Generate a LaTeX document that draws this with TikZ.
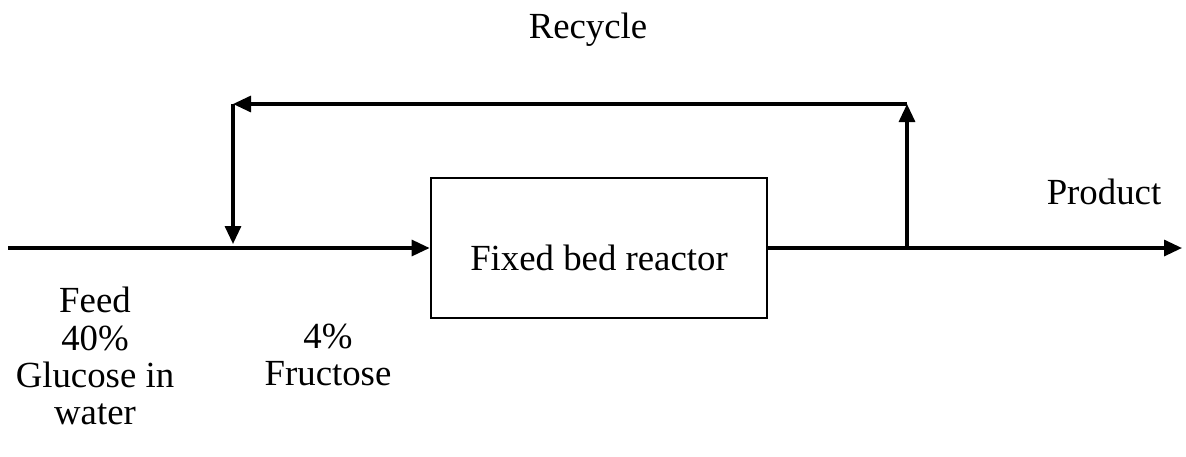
\documentclass[tikz,border=0pt]{standalone}
\usepackage{fontspec}
\setmainfont{Liberation Serif}
\usepackage{tikz}
\usetikzlibrary{arrows.meta,positioning,calc}

\begin{document}
\begin{tikzpicture}[x=0.5pt, y=-0.5pt,
		stream/.style={line width=1.6pt, -{Triangle[length=9pt,width=8pt]}},
		lbl/.style={font=\fontsize{18.4}{18.6}\selectfont, align=center, inner sep=0pt}]
		\useasboundingbox (0,0) rectangle (1186,456);

		\node[draw, line width=1.4pt, minimum width=168pt, minimum height=70pt, lbl, text height=22pt, text depth=0pt] (reactor) at (599,248) {Fixed bed reactor};

		\coordinate (feed) at (8,248);
		\coordinate (mix) at (233,248);
		\coordinate (mixtop) at (233,104);
		\coordinate (split) at (907,248);
		\coordinate (splittop) at (907,104);
		\coordinate (prodend) at (1182,248);

		\draw[stream] (feed) -- (reactor.west);
		\draw[stream] (reactor.east) -- (prodend);
		\draw[stream] (split) -- (splittop);
		\draw[stream] (splittop) -- (mixtop);
		\draw[stream, shorten >=2pt] (mixtop) -- (mix);

		\node[lbl] (recyclbl) at (588,30) {Recycle};
		\node[lbl] (prodlbl) at (1104,192) {Product};
		\node[lbl] (feedlbl) at (95,356) {Feed\\40\%\\Glucose in\\water};
		\node[lbl] (fructlbl) at (328,355) {4\%\\Fructose};
	\end{tikzpicture}
\end{document}
